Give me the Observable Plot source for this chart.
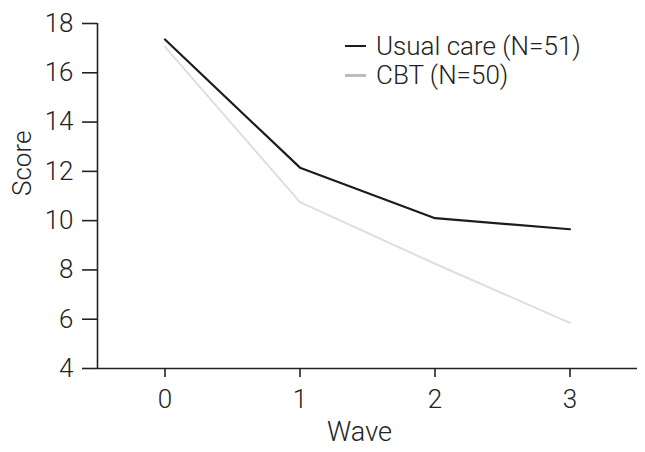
<!DOCTYPE html>
<html><head><meta charset="utf-8">
<script src="https://cdn.jsdelivr.net/npm/d3@7"></script>
<script src="https://cdn.jsdelivr.net/npm/@observablehq/plot@0.6"></script>
<style>
body{margin:0;background:#fff;}
#wrap{position:relative;width:645px;height:452px;font-family:Roboto,"Liberation Sans",sans-serif;font-weight:300;}
.leg{position:absolute;left:345px;height:30px;line-height:30px;font-size:26px;color:#222;display:flex;align-items:center;white-space:nowrap;}
.sw{width:21px;margin-right:10px;}
</style></head><body><div id="wrap"></div>
<script>
const waves = [0, 1, 2, 3];
const usualCare = [17.35, 12.15, 10.1, 9.65];
const cbt = [17.05, 10.75, 8.25, 5.85];
const yTicks = [4, 6, 8, 10, 12, 14, 16, 18];
const seriesNames = ["Usual care (N=51)", "CBT (N=50)"];
const lineColors = ["#1c1c1c", "#dedede"];
const swatchColors = ["#1c1c1c", "#bdbdbd"];

const rows = [];
waves.forEach((w, i) => rows.push({wave: w, score: usualCare[i], group: seriesNames[0]}));
waves.forEach((w, i) => rows.push({wave: w, score: cbt[i], group: seriesNames[1]}));

const font = "Roboto, 'Liberation Sans', sans-serif";
const plot = Plot.plot({
  width: 645, height: 452,
  marginLeft: 97, marginRight: 8, marginTop: 23, marginBottom: 84,
  style: {fontFamily: font, fontSize: "26px", fontWeight: 300, color: "#222", background: "#fff"},
  x: {domain: [-0.5, 3.5]},
  y: {domain: [4, 18]},
  color: {domain: seriesNames, range: lineColors},
  marks: [
    Plot.axisY({ticks: yTicks, tickSize: 15, tickPadding: 9, label: null, strokeWidth: 1.6, fontSize: 26}),
    Plot.axisX({ticks: waves, tickSize: 9, tickPadding: 12, label: null, tickFormat: d => String(d), strokeWidth: 1.6, fontSize: 26}),
    Plot.ruleX([-0.5], {stroke: "#222", strokeWidth: 1.6}),
    Plot.ruleY([4], {stroke: "#222", strokeWidth: 1.6}),
    Plot.line(rows.filter(d => d.group === seriesNames[1]), {x: "wave", y: "score", stroke: "group", strokeWidth: 2}),
    Plot.line(rows.filter(d => d.group === seriesNames[0]), {x: "wave", y: "score", stroke: "group", strokeWidth: 2.2}),
    Plot.text(["Score"], {text: d => d, frameAnchor: "left", rotate: -90, dx: -75, fontSize: 26, fill: "#222"}),
    Plot.text(["Wave"], {text: d => d, frameAnchor: "bottom", dy: 72, dx: -8, fontSize: 27, fill: "#222"})
  ]
});
const wrap = document.getElementById("wrap");
wrap.appendChild(plot);
const legTops = [31, 60];
seriesNames.forEach((name, i) => {
  const div = document.createElement("div");
  div.className = "leg";
  div.style.top = legTops[i] + "px";
  const sw = document.createElement("span");
  sw.className = "sw";
  sw.style.borderTop = (i === 0 ? 2.2 : 3) + "px solid " + swatchColors[i];
  div.appendChild(sw);
  const t = document.createElement("span");
  t.textContent = name;
  div.appendChild(t);
  wrap.appendChild(div);
});
</script></body></html>
